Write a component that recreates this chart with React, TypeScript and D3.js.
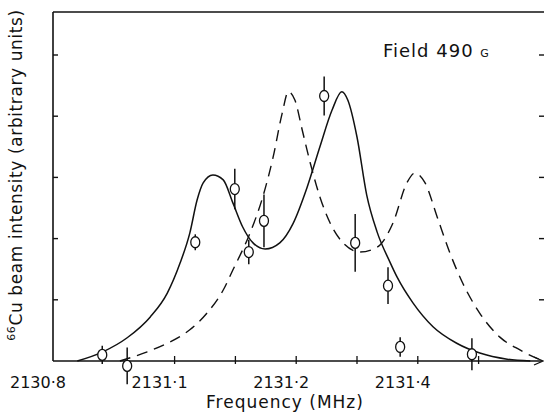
import React, { useEffect, useRef } from 'react';
import * as d3 from 'd3';

const W = 544, H = 414;

// fitted curve, solid (MHz / arbitrary units)
const solidFreq = [2130.84, 2130.882, 2130.922, 2130.960, 2130.988, 2131.009, 2131.025, 2131.037, 2131.047, 2131.063, 2131.080, 2131.096, 2131.112, 2131.129, 2131.149, 2131.173, 2131.195, 2131.218, 2131.239, 2131.259, 2131.275, 2131.285, 2131.300, 2131.316, 2131.333, 2131.354, 2131.366, 2131.392, 2131.425, 2131.464, 2131.502, 2131.547, 2131.585];
const solidInt = [0, 0.15, 0.38, 0.72, 1.11, 1.60, 2.09, 2.63, 2.91, 3.04, 2.96, 2.58, 2.19, 1.93, 1.83, 1.93, 2.25, 2.84, 3.50, 4.10, 4.40, 4.26, 3.66, 2.71, 2.11, 1.62, 1.37, 0.95, 0.56, 0.29, 0.13, 0.03, 0];

// fitted curve, dashed
const dashFreq = [2130.91, 2130.955, 2130.988, 2131.025, 2131.053, 2131.080, 2131.096, 2131.124, 2131.145, 2131.162, 2131.177, 2131.187, 2131.198, 2131.210, 2131.223, 2131.239, 2131.256, 2131.277, 2131.305, 2131.333, 2131.359, 2131.382, 2131.395, 2131.412, 2131.432, 2131.453, 2131.474, 2131.502, 2131.535, 2131.568, 2131.601];
const dashInt = [0, 0.15, 0.29, 0.51, 0.78, 1.16, 1.49, 2.09, 2.68, 3.33, 4.05, 4.40, 4.26, 3.77, 3.24, 2.68, 2.25, 1.93, 1.78, 1.86, 2.25, 2.91, 3.07, 2.91, 2.35, 1.76, 1.27, 0.78, 0.39, 0.18, 0.02];

// measured points
const pointFreq = [2130.881, 2130.922, 2131.034, 2131.099, 2131.122, 2131.147, 2131.246, 2131.297, 2131.351, 2131.371, 2131.489];
const pointInt = [0.10, -0.08, 1.94, 2.81, 1.78, 2.29, 4.33, 1.93, 1.23, 0.23, 0.11];
const pointErr = [0.15, 0.3, 0.13, 0.33, 0.2, 0.43, 0.32, 0.47, 0.3, 0.16, 0.26];

const xTicks = [2131.0, 2131.1, 2131.2, 2131.3, 2131.4, 2131.5];
const xLabelAt = [2130.8, 2131.0, 2131.2, 2131.4];
const xLabels = ['2130·8', '2131·1', '2131·2', '2131·4'];
const yTicks = [1, 2, 3, 4, 5];

const FONT = '"DejaVu Sans", sans-serif';

export default function App() {
  const ref = useRef<SVGSVGElement>(null);

  useEffect(() => {
    const svg = d3.select(ref.current);
    svg.selectAll('*').remove();

    const x = d3.scaleLinear().domain([2130.8, 2131.6]).range([53, 539.4]);
    const y = d3.scaleLinear().domain([0, 5]).range([361, 55]);
    const top = 12;
    const ink = '#111';

    // frame
    svg.append('line').attr('x1', x(2130.8)).attr('x2', W).attr('y1', top).attr('y2', top)
      .attr('stroke', ink).attr('stroke-width', 1.4);
    svg.append('line').attr('x1', x(2130.8)).attr('x2', x(2130.8)).attr('y1', top).attr('y2', y(0))
      .attr('stroke', ink).attr('stroke-width', 1.6);
    svg.append('line').attr('x1', x(2130.8)).attr('x2', 542).attr('y1', y(0)).attr('y2', y(0))
      .attr('stroke', ink).attr('stroke-width', 1.6);
    svg.append('path').attr('d', `M534,${y(0) - 4}L543,${y(0)}L534,${y(0) + 4}`)
      .attr('fill', 'none').attr('stroke', ink).attr('stroke-width', 1.3);

    // y ticks, both sides
    svg.selectAll('.yl').data(yTicks).enter().append('line')
      .attr('x1', x(2130.8)).attr('x2', x(2130.8) + 5)
      .attr('y1', d => y(d)).attr('y2', d => y(d))
      .attr('stroke', ink).attr('stroke-width', 1.4);
    svg.selectAll('.yr').data(yTicks).enter().append('line')
      .attr('x1', 539).attr('x2', W)
      .attr('y1', d => y(d)).attr('y2', d => y(d))
      .attr('stroke', ink).attr('stroke-width', 1.4);

    // x ticks
    svg.selectAll('.xt').data(xTicks).enter().append('line')
      .attr('x1', d => x(d)).attr('x2', d => x(d))
      .attr('y1', y(0) - 5).attr('y2', y(0) + 3)
      .attr('stroke', ink).attr('stroke-width', 1.3);

    svg.selectAll('.xlab').data(xLabels).enter().append('text')
      .attr('x', (d, i) => x(xLabelAt[i]) - 15)
      .attr('y', 388)
      .attr('text-anchor', 'middle')
      .style('font-family', FONT).style('font-size', '16px').attr('fill', ink)
      .text(d => d);

    const line = d3.line<number>()
      .x((d, i) => x(d))
      .curve(d3.curveMonotoneX);

    svg.append('path')
      .attr('d', line.y((d, i) => y(solidInt[i]))(solidFreq))
      .attr('fill', 'none').attr('stroke', ink).attr('stroke-width', 1.5);

    svg.append('path')
      .attr('d', line.y((d, i) => y(dashInt[i]))(dashFreq))
      .attr('fill', 'none').attr('stroke', ink).attr('stroke-width', 1.4)
      .attr('stroke-dasharray', '11,7');

    // data points with error bars
    const pts = svg.selectAll('.pt').data(pointFreq).enter().append('g');
    pts.append('line')
      .attr('x1', d => x(d)).attr('x2', d => x(d))
      .attr('y1', (d, i) => y(pointInt[i] + pointErr[i]))
      .attr('y2', (d, i) => y(pointInt[i] - pointErr[i]))
      .attr('stroke', ink).attr('stroke-width', 1.5);
    pts.append('ellipse')
      .attr('cx', d => x(d)).attr('cy', (d, i) => y(pointInt[i]))
      .attr('rx', 4.5).attr('ry', 5.5)
      .attr('fill', 'white').attr('stroke', ink).attr('stroke-width', 1.3);

    // labels
    svg.append('text').attr('x', 285).attr('y', 408).attr('text-anchor', 'middle')
      .style('font-family', FONT).style('font-size', '17px').style('letter-spacing', '1px')
      .attr('fill', ink)
      .text('Frequency (MHz)');

    const yl = svg.append('text')
      .attr('transform', 'translate(22,175) rotate(-90)')
      .attr('text-anchor', 'middle')
      .style('font-family', FONT).style('font-size', '17px').style('letter-spacing', '0.6px')
      .attr('fill', ink);
    yl.append('tspan').attr('dy', -7).style('font-size', '11px').text('66');
    yl.append('tspan').attr('dy', 7).text('Cu beam intensity (arbitrary units)');

    const f = svg.append('text').attr('x', 383).attr('y', 57)
      .style('font-family', FONT).style('font-size', '18px').style('letter-spacing', '1px')
      .attr('fill', ink);
    f.append('tspan').text('Field 490 ');
    f.append('tspan').style('font-size', '11px').text('G');
  }, []);

  return (
    <svg ref={ref} width={W} height={H}
      style={{ position: 'absolute', left: 0, top: 0, background: 'white' }} />
  );
}
